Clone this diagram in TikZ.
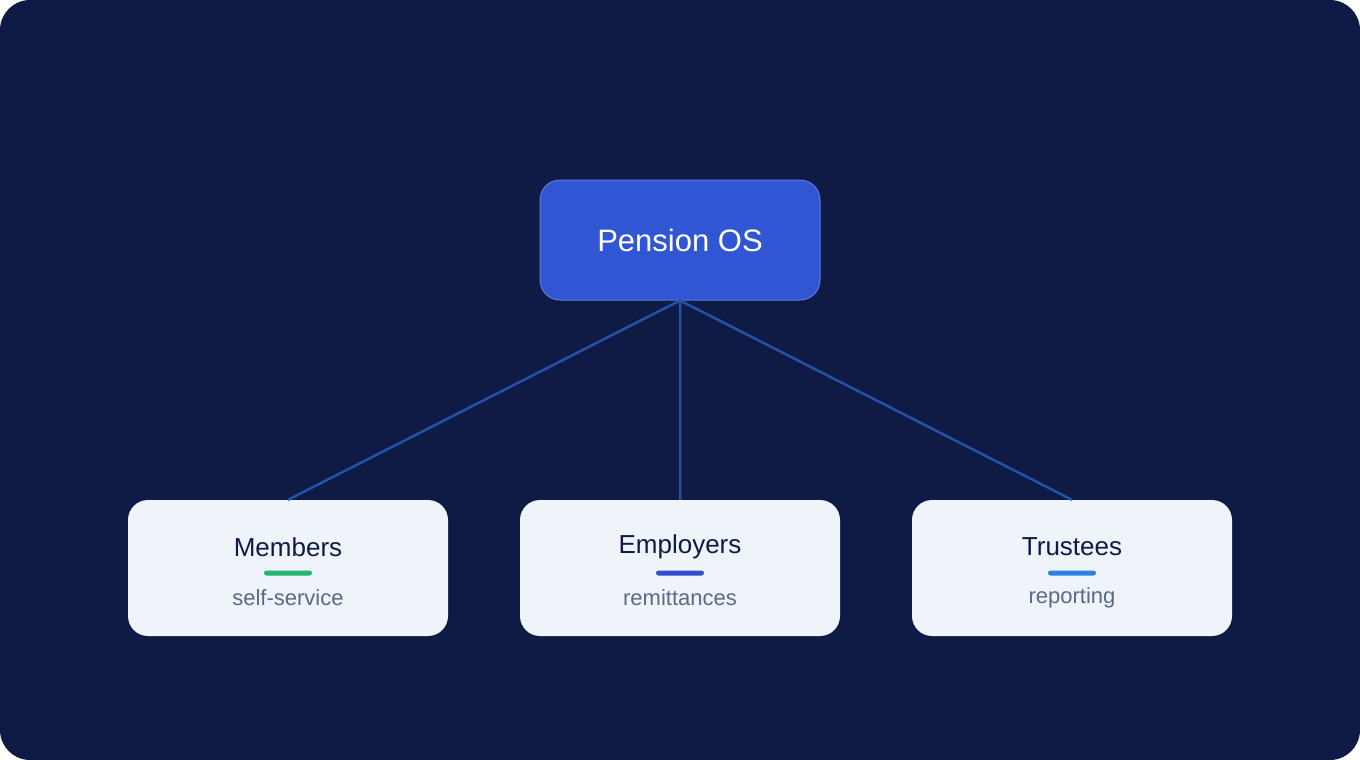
\documentclass[tikz,border=0pt]{standalone}
\usepackage{fontspec}
\setmainfont{Liberation Sans}
\usetikzlibrary{positioning}
\definecolor{bgnavy}{HTML}{0F1B45}
\definecolor{hubblue}{HTML}{3056D3}
\definecolor{hubedge}{HTML}{5C7BE0}
\definecolor{cardfill}{HTML}{EFF4FA}
\definecolor{linkblue}{HTML}{2452A6}
\definecolor{subgray}{HTML}{5A6A86}
\definecolor{barA}{HTML}{22B573}
\definecolor{barB}{HTML}{2F4FCF}
\definecolor{barC}{HTML}{2F80E6}

\tikzset{
  hub/.style={rounded corners=20pt, fill=hubblue, draw=hubedge, line width=1pt,
    minimum width=280pt, minimum height=120pt, text=white, font=\fontsize{31}{36}\selectfont},
  card/.style={rounded corners=20pt, fill=cardfill, minimum width=320pt, minimum height=136pt},
  title/.style={text=bgnavy, font=\fontsize{26}{30}\selectfont},
  sub/.style={text=subgray, font=\fontsize{22}{26}\selectfont},
  bar/.style={rounded corners=2.5pt, minimum width=48pt, minimum height=5pt, inner sep=0pt},
  link/.style={draw=linkblue, line width=2.5pt}
}

\begin{document}
\begin{tikzpicture}[x=1pt,y=-1pt]
    \useasboundingbox (0,0) rectangle (1360,760);
    \fill[bgnavy, rounded corners=30pt] (0,0) rectangle (1360,760);

    \node[hub]  (OS) at (680,240) {Pension OS};
    \node[card] (M)  at (288,568) {};
    \node[card] (E)  at (680,568) {};
    \node[card] (T)  at (1072,568) {};

    \path[link]
      (OS.south) -- (M.north)
      (OS.south) -- (E.north)
      (OS.south) -- (T.north);

    \node[title] (Mt) at (288,547)  {Members};
    \node[title] (Et) at (680,547)  {Employers};
    \node[title] (Tt) at (1072,547) {Trustees};
    \node[bar, fill=barA] (Mb) at (288,573)  {};
    \node[bar, fill=barB] (Eb) at (680,573)  {};
    \node[bar, fill=barC] (Tb) at (1072,573) {};
    \node[sub] (Ms) at (288,598)  {self-service};
    \node[sub] (Es) at (680,598)  {remittances};
    \node[sub] (Ts) at (1072,598) {reporting};
\end{tikzpicture}
\end{document}
